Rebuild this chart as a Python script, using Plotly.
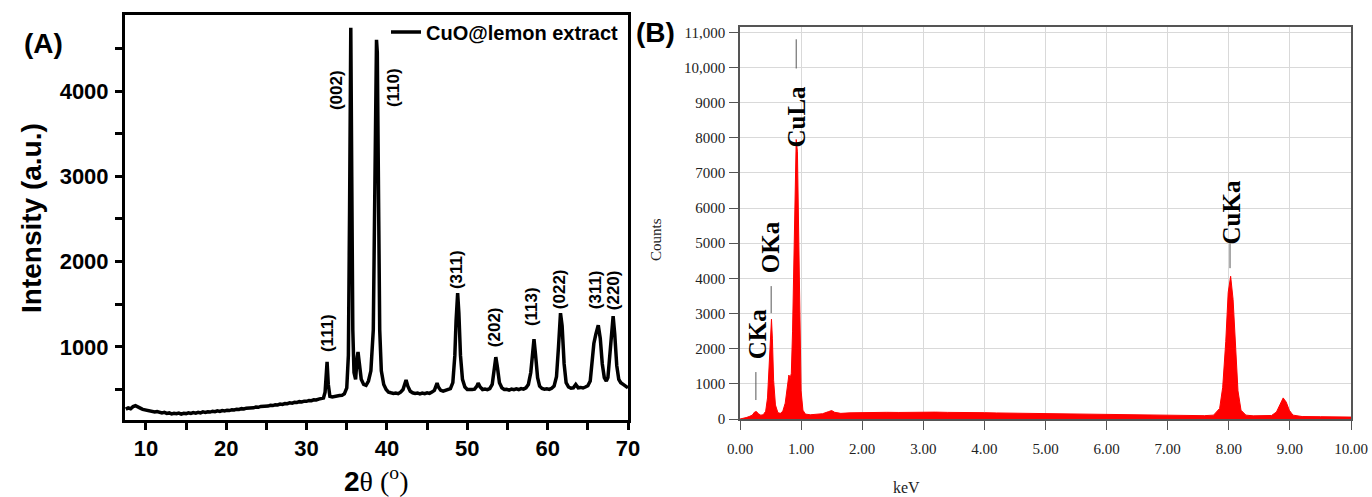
import plotly.graph_objects as go

W, H = 1372, 497

# ---------------- Panel A : XRD ----------------
xrd_two_theta = [
    7.5, 7.8, 8.1, 8.4, 8.7, 9.0, 9.3, 9.6, 9.9, 10.2, 10.5, 10.8, 11.1, 11.4, 11.7, 12.0,
    12.3, 12.6, 12.9, 13.2, 13.5, 13.8, 14.1, 14.4, 14.7, 15.0, 15.3, 15.6, 15.9, 16.2, 16.5,
    16.8, 17.1, 17.4, 17.7, 18.0, 18.3, 18.6, 18.9, 19.2, 19.5, 19.8, 20.1, 20.4, 20.7, 21.0,
    21.3, 21.6, 21.9, 22.2, 22.5, 22.8, 23.1, 23.4, 23.7, 24.0, 24.3, 24.6, 24.9, 25.2, 25.5,
    25.8, 26.1, 26.4, 26.7, 27.0, 27.3, 27.6, 27.9, 28.2, 28.5, 28.8, 29.1, 29.4, 29.7, 30.0,
    30.3, 30.6, 30.9, 31.2, 31.5, 31.8, 32.1, 32.3, 32.45, 32.55, 32.7, 32.9, 33.2, 33.5, 33.8,
    34.1, 34.4, 34.7, 35.0, 35.2, 35.35, 35.5, 35.62, 35.75, 35.9, 36.1, 36.3, 36.4, 36.55, 36.8,
    37.1, 37.4, 37.7, 38.0, 38.3, 38.5, 38.7, 38.8, 38.95, 39.1, 39.3, 39.6, 39.9, 40.2, 40.5,
    40.8, 41.1, 41.4, 41.7, 42.0, 42.2, 42.38, 42.6, 42.9, 43.2, 43.5, 43.8, 44.1, 44.4, 44.7,
    45.0, 45.3, 45.6, 45.9, 46.1, 46.24, 46.4, 46.7, 47.0, 47.3, 47.6, 47.9, 48.2, 48.45, 48.6,
    48.8, 48.95, 49.15, 49.4, 49.7, 50.0, 50.3, 50.6, 50.9, 51.2, 51.35, 51.6, 51.9, 52.2, 52.5,
    52.8, 53.1, 53.35, 53.55, 53.75, 54.0, 54.3, 54.6, 54.9, 55.2, 55.5, 55.8, 56.1, 56.4, 56.7,
    57.0, 57.3, 57.6, 57.9, 58.15, 58.3, 58.5, 58.75, 59.0, 59.3, 59.6, 59.9, 60.2, 60.5, 60.8,
    61.1, 61.35, 61.6, 61.8, 62.05, 62.3, 62.6, 62.9, 63.2, 63.5, 63.8, 64.1, 64.4, 64.7, 65.0,
    65.3, 65.6, 65.75, 66.0, 66.3, 66.55, 66.8, 67.05, 67.3, 67.5, 67.75, 67.95, 68.15, 68.35,
    68.6, 68.85, 69.1, 69.4, 69.7, 70.0,
]
xrd_intensity = [
    270, 285, 275, 300, 310, 290, 282, 268, 262, 255, 248, 240, 236, 242, 228, 225,
    232, 220, 226, 214, 222, 216, 224, 212, 222, 218, 228, 220, 230, 224, 234,
    226, 238, 232, 240, 236, 246, 240, 250, 244, 254, 250, 258, 254, 264, 260,
    270, 266, 276, 272, 282, 280, 288, 286, 296, 292, 302, 300, 308, 306, 316,
    312, 322, 320, 330, 326, 336, 334, 344, 340, 350, 348, 358, 354, 364, 362,
    372, 370, 380, 378, 388, 392, 400, 470, 760, 825, 560, 420, 412, 420, 418,
    430, 432, 450, 520, 900, 2600, 4740, 3000, 1200, 700, 620, 880, 940, 820, 620,
    560, 550, 600, 720, 1200, 2800, 4600, 4450, 2500, 1200, 720, 560, 500, 470, 462,
    455, 460, 452, 470, 500, 560, 612, 540, 480, 462, 455, 460, 448, 458, 452,
    462, 455, 470, 490, 540, 577, 530, 490, 480, 488, 495, 510, 580, 900, 1300,
    1630, 1400, 900, 620, 530, 500, 495, 500, 505, 540, 575, 530, 500, 505, 498,
    510, 560, 750, 880, 760, 580, 520, 500, 502, 494, 505, 498, 508, 500, 512,
    505, 520, 560, 700, 950, 1090, 900, 640, 540, 512, 505, 510, 502, 515, 540,
    650, 1000, 1395, 1250, 800, 580, 530, 515, 520, 560, 520, 525, 518, 530, 545,
    600, 900, 1040, 1150, 1255, 1100, 800, 640, 600, 640, 900, 1200, 1360, 1150,
    780, 620, 580, 560, 545, 520,
]
xrd_series_name = "CuO@lemon extract"

xrd_tick_vals = [10, 20, 30, 40, 50, 60, 70]
xrd_tick_text = ["10", "20", "30", "40", "50", "60", "70"]
xrd_minor_vals = [15, 25, 35, 45, 55, 65]
int_tick_vals = [1000, 2000, 3000, 4000]
int_tick_text = ["1000", "2000", "3000", "4000"]
int_minor_vals = [500, 1500, 2500, 3500, 4500]

xrd_peak_labels = ["(111)", "(002)", "(110)", "(311)", "(202)", "(113)", "(022)", "(311)", "(220)"]
xrd_label_x = [32.67, 33.8, 40.76, 48.73, 53.34, 58.07, 61.56, 65.92, 68.16]
xrd_label_y = [1163, 4012, 4035, 1902, 1233, 1468, 1679, 1667, 1667]

# ---------------- Panel B : EDS ----------------
eds_energy = [
    0.00, 0.05, 0.10, 0.15, 0.20, 0.24, 0.27, 0.30, 0.34, 0.38, 0.42, 0.45, 0.48, 0.50, 0.515,
    0.53, 0.55, 0.58, 0.62, 0.66, 0.70, 0.74, 0.77, 0.80, 0.82, 0.84, 0.86, 0.88, 0.90, 0.92,
    0.94, 0.96, 0.98, 1.00, 1.03, 1.07, 1.15, 1.25, 1.35, 1.45, 1.50, 1.55, 1.65, 1.8, 2.0,
    2.2, 2.4, 2.6, 2.8, 3.0, 3.2, 3.4, 3.6, 3.8, 4.0, 4.2, 4.4, 4.6, 4.8, 5.0, 5.2, 5.4, 5.6,
    5.8, 6.0, 6.2, 6.4, 6.6, 6.8, 7.0, 7.2, 7.4, 7.6, 7.75, 7.85, 7.90, 7.95, 7.99, 8.03, 8.07,
    8.11, 8.15, 8.20, 8.28, 8.4, 8.55, 8.7, 8.78, 8.84, 8.89, 8.94, 8.99, 9.05, 9.2, 9.5, 9.8,
    10.0,
]
eds_counts = [
    0, 10, 40, 70, 110, 200, 210, 150, 110, 120, 220, 600, 1800, 2600, 2840,
    2300, 1100, 400, 180, 160, 220, 450, 900, 1250, 1150, 1300, 2500, 4500, 7000, 7950,
    7600, 5000, 2200, 800, 250, 140, 120, 130, 150, 210, 240, 190, 160, 175, 185,
    180, 190, 186, 195, 190, 196, 188, 192, 182, 180, 172, 168, 160, 155, 148, 142, 138, 132,
    128, 126, 120, 114, 108, 102, 98, 95, 92, 95, 110, 300, 900, 2200, 3600, 4060, 3400,
    1900, 800, 250, 110, 90, 85, 100, 200, 420, 600, 480, 250, 110, 70, 65, 58,
    55,
]
kev_tick_vals = [0, 1, 2, 3, 4, 5, 6, 7, 8, 9, 10]
kev_tick_text = ["0.00", "1.00", "2.00", "3.00", "4.00", "5.00", "6.00", "7.00", "8.00", "9.00", "10.00"]
counts_tick_vals = [0, 1000, 2000, 3000, 4000, 5000, 6000, 7000, 8000, 9000, 10000, 11000]
counts_tick_text = ["0", "1000", "2000", "3000", "4000", "5000", "6000", "7000", "8000", "9000",
                    "10,000", "11,000"]

eds_labels = ["CKa", "OKa", "CuLa", "CuKa"]
eds_label_x = [0.28, 0.49, 0.92, 8.04]
eds_label_y = [2415, 4886, 8608, 5880]
eds_line_x = [0.26, 0.51, 0.92, 8.02]
eds_line_y0 = [540, 3010, 9970, 4290]
eds_line_y1 = [1335, 3780, 10800, 5000]


def px(x):
    return x / W


def py(y):
    return 1 - y / H


fig = go.Figure()

fig.add_trace(go.Scatter(
    x=xrd_two_theta, y=xrd_intensity, mode="lines", name=xrd_series_name,
    line=dict(color="black", width=3.5), xaxis="x", yaxis="y", showlegend=True,
))
fig.add_trace(go.Scatter(
    x=eds_energy, y=eds_counts, mode="lines", fill="tozeroy",
    fillcolor="#ff0000", line=dict(color="#ff0000", width=1),
    xaxis="x2", yaxis="y2", showlegend=False,
))

sans_bold = dict(family="Liberation Sans", color="black", weight="bold")
serif = dict(family="Liberation Serif", color="#222222")
minor_a = dict(ticks="outside", ticklen=7, tickwidth=3, tickcolor="black", showgrid=False)

fig.update_layout(
    template="none",
    width=W, height=H,
    margin=dict(l=0, r=0, t=0, b=0, autoexpand=False),
    paper_bgcolor="white", plot_bgcolor="white",
    xaxis=dict(
        domain=[px(125), px(628)], range=[7.4, 70], anchor="y", automargin=False,
        showline=True, mirror=True, linewidth=3, linecolor="black",
        ticks="outside", ticklen=7, tickwidth=3, tickcolor="black",
        tickmode="array", tickvals=xrd_tick_vals, ticktext=xrd_tick_text,
        minor=dict(tickmode="array", tickvals=xrd_minor_vals, **minor_a),
        showgrid=False, zeroline=False,
        tickfont=dict(size=22, **sans_bold), ticklabelstandoff=0,
    ),
    yaxis=dict(
        domain=[py(420), py(15)], range=[143, 4891], anchor="x", automargin=False,
        showline=True, mirror=True, linewidth=3, linecolor="black",
        ticks="outside", ticklen=7, tickwidth=3, tickcolor="black",
        tickmode="array", tickvals=int_tick_vals, ticktext=int_tick_text,
        minor=dict(tickmode="array", tickvals=int_minor_vals, **minor_a),
        showgrid=False, zeroline=False,
        tickfont=dict(size=22, **sans_bold), ticklabelstandoff=2,
    ),
    xaxis2=dict(
        domain=[px(740), px(1351)], range=[0, 10], anchor="y2", automargin=False,
        showline=True, mirror=True, linewidth=1.5, linecolor="#555555",
        ticks="outside", ticklen=9, tickwidth=1, tickcolor="#555555",
        tickvals=kev_tick_vals, ticktext=kev_tick_text,
        showgrid=True, gridcolor="#d9d9d9", gridwidth=1, zeroline=False,
        tickfont=dict(size=15, **serif), ticklabelstandoff=6,
    ),
    yaxis2=dict(
        domain=[py(419), py(27)], range=[0, 11150], anchor="x2", automargin=False,
        showline=True, mirror=True, linewidth=1.5, linecolor="#555555",
        ticks="outside", ticklen=9, tickwidth=1, tickcolor="#555555",
        tickvals=counts_tick_vals, ticktext=counts_tick_text,
        showgrid=True, gridcolor="#d9d9d9", gridwidth=1, zeroline=False,
        tickfont=dict(size=15, **serif), ticklabelstandoff=1,
    ),
    legend=dict(
        x=px(624), y=py(32), xanchor="right", yanchor="middle",
        bgcolor="rgba(0,0,0,0)", borderwidth=0,
        font=dict(size=20, **sans_bold), itemwidth=30,
    ),
)

annotations = []
for t, x, y in zip(xrd_peak_labels, xrd_label_x, xrd_label_y):
    annotations.append(dict(
        x=x, y=y, xref="x", yref="y", text=t, showarrow=False, textangle=-90,
        font=dict(size=17, **sans_bold), xanchor="center", yanchor="middle",
    ))
for t, x, y in zip(eds_labels, eds_label_x, eds_label_y):
    annotations.append(dict(
        x=x, y=y, xref="x2", yref="y2", text=t, showarrow=False, textangle=-90,
        font=dict(size=25, family="Liberation Serif", color="black", weight="bold"),
        xanchor="center", yanchor="middle",
    ))

annotations += [
    dict(x=px(43), y=py(43), xref="paper", yref="paper", text="<b>(A)</b>", showarrow=False,
         font=dict(size=28, family="Liberation Sans", color="black"),
         xanchor="center", yanchor="middle"),
    dict(x=px(655), y=py(33), xref="paper", yref="paper", text="<b>(B)</b>", showarrow=False,
         font=dict(size=28, family="Liberation Sans", color="black"),
         xanchor="center", yanchor="middle"),
    dict(x=px(31), y=py(218), xref="paper", yref="paper", text="<b>Intensity (a.u.)</b>",
         showarrow=False, textangle=-90,
         font=dict(size=28, family="Liberation Sans", color="black"),
         xanchor="center", yanchor="middle"),
    dict(x=px(376), y=py(479), xref="paper", yref="paper",
         text="<b>2</b><span style='font-family:Liberation Serif'>θ (<sup>o</sup>)</span>",
         showarrow=False, font=dict(size=28, family="Liberation Sans", color="black"),
         xanchor="center", yanchor="middle"),
    dict(x=px(656), y=py(240), xref="paper", yref="paper", text="Counts",
         showarrow=False, textangle=-90, font=dict(size=15, **serif),
         xanchor="center", yanchor="middle"),
    dict(x=px(906), y=py(487), xref="paper", yref="paper", text="keV",
         showarrow=False, font=dict(size=16, **serif),
         xanchor="center", yanchor="middle"),
]
fig.update_layout(annotations=annotations)

shapes = []
for x, y0, y1 in zip(eds_line_x, eds_line_y0, eds_line_y1):
    shapes.append(dict(type="line", xref="x2", yref="y2", x0=x, x1=x, y0=y0, y1=y1,
                       line=dict(color="#555555", width=1)))
fig.update_layout(shapes=shapes)

fig.write_html(
    "out.html",
    config={"displayModeBar": False},
    post_script="document.body.style.margin='0px';document.body.style.overflow='hidden';",
)
